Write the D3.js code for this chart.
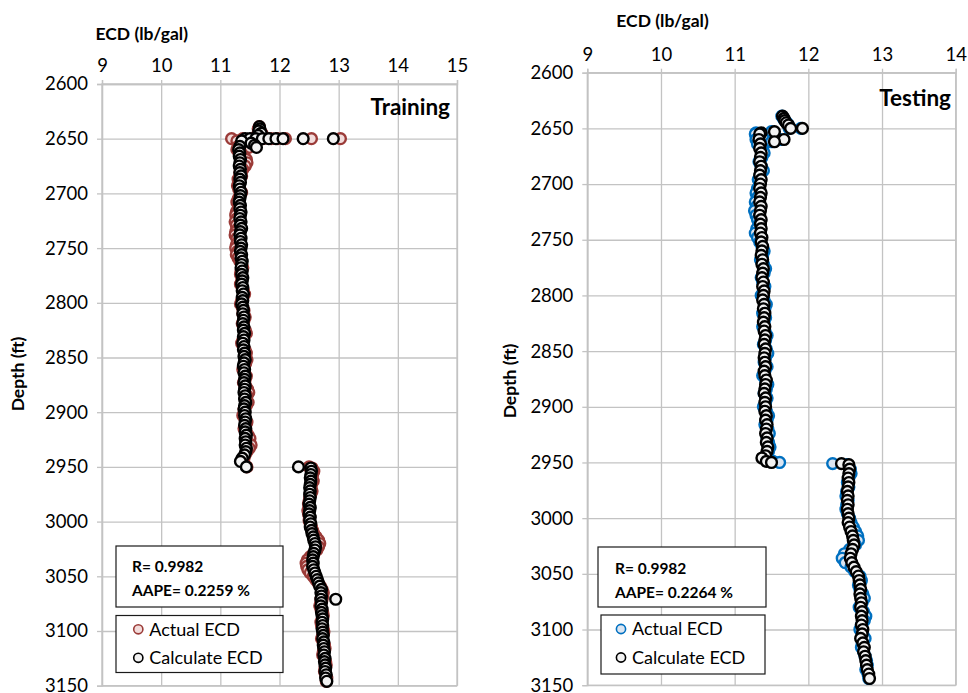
<!DOCTYPE html>
<html lang="en">
<head>
<meta charset="UTF-8">
<title>ECD vs depth</title>
<script src="https://cdn.jsdelivr.net/npm/d3@7"></script>
<style>
  body { margin: 0; background: #fff; }
  svg { display: block; font-family: Lato, "Open Sans", sans-serif; }
  .grid line { stroke: #c3c3c3; stroke-width: 1.3; }
  .grid .domain { display: none; }
  .axis .domain { stroke: #c3c3c3; stroke-width: 1.3; }
  .axis line { stroke: #c3c3c3; stroke-width: 1.3; }
  .axis text { font-size: 18.5px; fill: #000; font-family: Lato, sans-serif; }
  .ttl { font-weight: bold; font-size: 17.5px; }
  .panel-name { font-weight: bold; font-size: 22.5px; }
  .stat { font-weight: bold; font-size: 15.5px; }
  .leg { font-size: 18px; }
</style>
</head>
<body>
<svg id="fig" width="968" height="693"></svg>
<script>
// ---- data ----
const xTicksTrain = [9, 10, 11, 12, 13, 14, 15]
const xTicksTest = [9, 10, 11, 12, 13, 14]
const depthTicks = [2600, 2650, 2700, 2750, 2800, 2850, 2900, 2950, 3000, 3050, 3100, 3150]

const trainDepth = [
  2639, 2641, 2643, 2645, 2647, 2650, 2650, 2650, 2650, 2650, 2650, 2650, 2650, 2650, 2652, 2654, 2656, 2658, 2657,
  2660, 2663, 2666, 2669, 2672, 2675, 2678, 2681, 2684, 2687,
  2690, 2693, 2696, 2699, 2702, 2705, 2708, 2711, 2714, 2717,
  2720, 2723, 2726, 2729, 2732, 2735, 2738, 2741, 2744, 2747,
  2750, 2753, 2756, 2759, 2762, 2765, 2768, 2771, 2774, 2777,
  2780, 2783, 2786, 2789, 2792, 2795, 2798, 2801, 2804, 2807,
  2810, 2813, 2816, 2819, 2822, 2825, 2828, 2831, 2834, 2837,
  2840, 2843, 2846, 2849, 2852, 2855, 2858, 2861, 2864, 2867,
  2870, 2873, 2876, 2879, 2882, 2885, 2888, 2891, 2894, 2897,
  2900, 2903, 2906, 2909, 2912, 2915, 2918, 2921, 2924, 2927,
  2930, 2933, 2936, 2939, 2942, 2945, 2950,
  2950,
  2951, 2954, 2957, 2960, 2963, 2966, 2969, 2972, 2975, 2978,
  2981, 2984, 2987, 2990, 2993, 2996, 2999, 3002, 3005, 3008,
  3011, 3014, 3017, 3020, 3023, 3026, 3029, 3032, 3035, 3038,
  3041, 3044, 3047, 3050, 3053, 3056, 3059, 3062, 3065, 3068,
  3071, 3074, 3077, 3080, 3083, 3086, 3089, 3092, 3095, 3098,
  3101, 3104, 3107, 3110, 3113, 3116, 3119, 3122, 3125, 3128,
  3131, 3134, 3137, 3140, 3143, 3146,
  3071
]
const trainActual = [
  11.66, 11.64, 11.67, 11.70, 11.62, 11.19, 11.38, 11.55, 11.72, 11.86, 11.97, 12.10, 12.54, 13.03, 11.28, 11.36, 11.42, 11.48, 11.30,
  11.28, 11.35, 11.40, 11.44, 11.45, 11.42, 11.38, 11.33, 11.36, 11.30,
  11.32, 11.29, 11.31, 11.36, 11.33, 11.30, 11.28, 11.32, 11.30, 11.27,
  11.26, 11.28, 11.25, 11.27, 11.30, 11.26, 11.25, 11.28, 11.31, 11.27,
  11.26, 11.29, 11.27, 11.30, 11.33, 11.36, 11.38, 11.35, 11.34, 11.37,
  11.36, 11.34, 11.37, 11.39, 11.41, 11.38, 11.36, 11.34, 11.37, 11.40,
  11.38, 11.42, 11.40, 11.37, 11.39, 11.42, 11.44, 11.40, 11.38, 11.36,
  11.39, 11.42, 11.44, 11.41, 11.45, 11.43, 11.40, 11.38, 11.41, 11.44,
  11.42, 11.39, 11.43, 11.46, 11.48, 11.45, 11.42, 11.47, 11.44, 11.40,
  11.41, 11.38, 11.42, 11.45, 11.43, 11.40, 11.44, 11.47, 11.50, 11.46,
  11.52, 11.49, 11.45, 11.42, 11.40, 11.38, 11.45,
  12.50,
  12.55, 12.58, 12.56, 12.55, 12.57, 12.54, 12.53, 12.55, 12.53, 12.51,
  12.50, 12.49, 12.50, 12.48, 12.49, 12.51, 12.50, 12.52, 12.54, 12.56,
  12.58, 12.62, 12.66, 12.68, 12.66, 12.63, 12.58, 12.52, 12.47, 12.45,
  12.46, 12.48, 12.52, 12.57, 12.61, 12.65, 12.69, 12.72, 12.74, 12.73,
  12.72, 12.70, 12.68, 12.70, 12.73, 12.74, 12.72, 12.70, 12.71, 12.74,
  12.75, 12.73, 12.71, 12.74, 12.76, 12.77, 12.74, 12.73, 12.76, 12.78,
  12.79, 12.77, 12.76, 12.78, 12.80, 12.79,
  12.70
]
const trainCalc = [
  11.66, 11.67, 11.65, 11.69, 11.64, 11.42, 11.50, 11.60, 11.71, 11.82, 11.94, 12.06, 12.40, 12.91, 11.36, 11.52, 11.58, 11.61, 11.33,
  11.31, 11.33, 11.32, 11.34, 11.33, 11.32, 11.34, 11.33, 11.35, 11.33,
  11.34, 11.32, 11.33, 11.35, 11.34, 11.33, 11.32, 11.34, 11.33, 11.35,
  11.34, 11.33, 11.35, 11.34, 11.36, 11.34, 11.33, 11.35, 11.34, 11.36,
  11.35, 11.34, 11.36, 11.35, 11.37, 11.36, 11.35, 11.37, 11.36, 11.38,
  11.37, 11.36, 11.38, 11.37, 11.39, 11.37, 11.38, 11.36, 11.38, 11.39,
  11.38, 11.40, 11.39, 11.38, 11.40, 11.39, 11.41, 11.39, 11.40, 11.38,
  11.40, 11.39, 11.41, 11.40, 11.42, 11.40, 11.39, 11.41, 11.40, 11.42,
  11.41, 11.40, 11.42, 11.41, 11.40, 11.42, 11.41, 11.43, 11.41, 11.40,
  11.42, 11.41, 11.43, 11.42, 11.41, 11.43, 11.42, 11.44, 11.42, 11.43,
  11.42, 11.44, 11.43, 11.41, 11.37, 11.34, 11.44,
  12.32,
  12.53, 12.54, 12.53, 12.52, 12.53, 12.52, 12.51, 12.52, 12.51, 12.52,
  12.51, 12.50, 12.52, 12.51, 12.50, 12.52, 12.51, 12.53, 12.52, 12.54,
  12.55, 12.57, 12.58, 12.60, 12.61, 12.60, 12.58, 12.57, 12.56, 12.57,
  12.56, 12.58, 12.60, 12.62, 12.64, 12.66, 12.68, 12.71, 12.70, 12.71,
  12.70, 12.71, 12.70, 12.72, 12.71, 12.72, 12.73, 12.72, 12.73, 12.72,
  12.73, 12.74, 12.73, 12.75, 12.74, 12.75, 12.76, 12.75, 12.77, 12.76,
  12.77, 12.78, 12.77, 12.79, 12.78, 12.80,
  12.95
]

const testDepth = [
  2639, 2641, 2643, 2645, 2647, 2650, 2650, 2653, 2654, 2655, 2660, 2662,
  2660, 2664, 2668, 2672, 2676, 2680, 2684, 2688, 2692, 2696,
  2700, 2704, 2708, 2712, 2716, 2720, 2724, 2728, 2732, 2736,
  2740, 2744, 2748, 2752, 2756, 2760, 2764, 2768, 2772, 2776,
  2780, 2784, 2788, 2792, 2796, 2800, 2804, 2808, 2812, 2816,
  2820, 2824, 2828, 2832, 2836, 2840, 2844, 2848, 2852, 2856,
  2860, 2864, 2868, 2872, 2876, 2880, 2884, 2888, 2892, 2896,
  2900, 2904, 2908, 2912, 2916, 2920, 2924, 2928, 2932, 2936,
  2940, 2944, 2946, 2949, 2950,
  2951,
  2952, 2956, 2960, 2964, 2968, 2972, 2976, 2980, 2984, 2988,
  2992, 2996, 3000, 3004, 3008, 3012, 3016, 3020, 3024, 3028,
  3032, 3036, 3040, 3044, 3048, 3052, 3056, 3060, 3064, 3068,
  3072, 3076, 3080, 3084, 3088, 3092, 3096, 3100, 3104, 3108,
  3112, 3116, 3120, 3124, 3128, 3132, 3136, 3140, 3144
]
const testActual = [
  11.64, 11.66, 11.68, 11.71, 11.73, 11.74, 11.90, 11.50, 11.29, 11.28, 11.62, 11.50,
  11.29, 11.31, 11.38, 11.40, 11.37, 11.33, 11.36, 11.39, 11.35, 11.32,
  11.34, 11.31, 11.29, 11.31, 11.28, 11.30, 11.27, 11.29, 11.31, 11.33,
  11.30, 11.28, 11.31, 11.34, 11.37, 11.40, 11.38, 11.35, 11.39, 11.42,
  11.40, 11.36, 11.38, 11.41, 11.39, 11.36, 11.40, 11.43, 11.41, 11.38,
  11.42, 11.40, 11.38, 11.41, 11.44, 11.42, 11.39, 11.43, 11.45, 11.42,
  11.40, 11.44, 11.41, 11.38, 11.42, 11.45, 11.43, 11.40, 11.44, 11.42,
  11.39, 11.43, 11.46, 11.44, 11.41, 11.45, 11.47, 11.44, 11.46, 11.48,
  11.46, 11.44, 11.40, 11.52, 11.61,
  12.33,
  12.52, 12.57, 12.58, 12.55, 12.53, 12.55, 12.52, 12.51, 12.54, 12.52,
  12.51, 12.53, 12.56, 12.58, 12.61, 12.64, 12.67, 12.68, 12.64, 12.56,
  12.49, 12.46, 12.50, 12.58, 12.63, 12.70, 12.72, 12.68, 12.70, 12.74,
  12.76, 12.73, 12.69, 12.75, 12.78, 12.76, 12.72, 12.70, 12.74, 12.77,
  12.73, 12.72, 12.75, 12.77, 12.79, 12.80, 12.78, 12.81, 12.82
]
const testCalc = [
  11.65, 11.67, 11.68, 11.70, 11.73, 11.76, 11.92, 11.54, 11.36, 11.34, 11.67, 11.54,
  11.33, 11.35, 11.34, 11.36, 11.35, 11.34, 11.36, 11.35, 11.34, 11.36,
  11.35, 11.34, 11.36, 11.35, 11.34, 11.36, 11.35, 11.34, 11.36, 11.35,
  11.36, 11.35, 11.37, 11.36, 11.38, 11.37, 11.36, 11.38, 11.37, 11.39,
  11.38, 11.37, 11.39, 11.38, 11.40, 11.39, 11.38, 11.40, 11.39, 11.41,
  11.40, 11.39, 11.41, 11.40, 11.42, 11.41, 11.40, 11.42, 11.41, 11.40,
  11.41, 11.42, 11.40, 11.41, 11.43, 11.42, 11.41, 11.40, 11.42, 11.41,
  11.42, 11.41, 11.43, 11.42, 11.44, 11.43, 11.42, 11.44, 11.43, 11.45,
  11.44, 11.42, 11.37, 11.43, 11.50,
  12.45,
  12.55, 12.56, 12.55, 12.54, 12.55, 12.54, 12.53, 12.54, 12.53, 12.54,
  12.53, 12.54, 12.55, 12.54, 12.56, 12.58, 12.60, 12.61, 12.62, 12.60,
  12.58, 12.57, 12.59, 12.62, 12.65, 12.68, 12.69, 12.70, 12.71, 12.70,
  12.71, 12.72, 12.71, 12.73, 12.72, 12.73, 12.72, 12.74, 12.73, 12.71,
  12.74, 12.76, 12.75, 12.77, 12.78, 12.79, 12.80, 12.82, 12.83
]

const trainStats = ['R= 0.9982', 'AAPE= 0.2259 %']
const testStats = ['R= 0.9982', 'AAPE= 0.2264 %']
const legendNames = ['Actual ECD', 'Calculate ECD']

// ---- drawing ----
let svg = d3.select('#fig')
svg.append('rect').attr('width', 968).attr('height', 693).attr('fill', '#fff')

const R = 5.4
const SW = 2.4

function drawPanel(p) {
  let x = d3.scaleLinear().domain(p.xDomain).range([p.left, p.right])
  let y = d3.scaleLinear().domain([2600, 3150]).range([p.top, p.bottom])
  let g = svg.append('g')

  // gridlines
  g.append('g').attr('class', 'grid')
    .attr('transform', `translate(0,${p.top})`)
    .call(d3.axisTop(x).tickValues(p.xTicks).tickSize(-(p.bottom - p.top)).tickFormat(''))
  g.append('g').attr('class', 'grid')
    .attr('transform', `translate(${p.left},0)`)
    .call(d3.axisLeft(y).tickValues(depthTicks).tickSize(-(p.right - p.left)).tickFormat(''))
  g.append('rect')
    .attr('x', p.left).attr('y', p.top)
    .attr('width', p.right - p.left).attr('height', p.bottom - p.top)
    .attr('fill', 'none').attr('stroke', '#c3c3c3').attr('stroke-width', 1.3)

  // axes
  g.append('g').attr('class', 'axis')
    .attr('transform', `translate(0,${p.top})`)
    .call(d3.axisTop(x).tickValues(p.xTicks).tickSize(4).tickPadding(8).tickFormat(d3.format('d')))
  g.append('g').attr('class', 'axis')
    .attr('transform', `translate(${p.left},0)`)
    .call(d3.axisLeft(y).tickValues(depthTicks).tickSize(5).tickPadding(9).tickFormat(d3.format('d')))

  // axis titles
  g.append('text').attr('class', 'ttl')
    .attr('x', p.xTitle[0]).attr('y', p.xTitle[1])
    .text('ECD (lb/gal)')
  g.append('text').attr('class', 'ttl')
    .attr('text-anchor', 'middle')
    .attr('transform', `translate(${p.yTitle[0]},${p.yTitle[1]}) rotate(-90)`)
    .text('Depth (ft)')
  g.append('text').attr('class', 'panel-name')
    .attr('text-anchor', 'end')
    .attr('x', p.name[0]).attr('y', p.name[1])
    .text(p.label)

  // points: actual first, calculated on top
  let pts = g.append('g')
  pts.selectAll('circle.act')
    .data(p.depth)
    .join('circle').attr('class', 'act')
    .attr('cx', (d, i) => x(p.actual[i]))
    .attr('cy', d => y(d))
    .attr('r', R)
    .attr('fill', p.actFill).attr('stroke', p.actStroke).attr('stroke-width', SW)
  pts.selectAll('circle.calc')
    .data(p.depth)
    .join('circle').attr('class', 'calc')
    .attr('cx', (d, i) => x(p.calc[i]))
    .attr('cy', d => y(d))
    .attr('r', R)
    .attr('fill', '#f2f2f2').attr('stroke', '#000').attr('stroke-width', SW)

  // stats box
  let sb = p.statBox
  g.append('rect').attr('x', sb[0]).attr('y', sb[1]).attr('width', sb[2]).attr('height', sb[3])
    .attr('fill', '#fff').attr('stroke', '#1a1a1a').attr('stroke-width', 1.2)
  p.stats.forEach((s, i) => {
    g.append('text').attr('class', 'stat')
      .attr('x', p.statText[0]).attr('y', p.statText[1] + i * 24.5)
      .text(s)
  })

  // legend box
  let lb = p.legBox
  g.append('rect').attr('x', lb[0]).attr('y', lb[1]).attr('width', lb[2]).attr('height', lb[3])
    .attr('fill', '#fff').attr('stroke', '#1a1a1a').attr('stroke-width', 1.2)
  legendNames.forEach((name, i) => {
    let cy = p.legMarker[1] + i * 28.5
    g.append('circle').attr('cx', p.legMarker[0]).attr('cy', cy).attr('r', 4.6)
      .attr('fill', i === 0 ? p.actFill : '#f2f2f2')
      .attr('stroke', i === 0 ? p.actStroke : '#000')
      .attr('stroke-width', 1.6)
    g.append('text').attr('class', 'leg')
      .attr('x', p.legMarker[0] + 11).attr('y', cy + 6.3)
      .text(name)
  })
}

drawPanel({
  label: 'Training', xDomain: [9, 15], xTicks: xTicksTrain,
  left: 102, right: 457, top: 84, bottom: 685.7,
  xTitle: [95.5, 39.5], yTitle: [24, 374], name: [450, 115],
  depth: trainDepth, actual: trainActual, calc: trainCalc,
  actFill: '#f2dcdb', actStroke: '#9b3b38',
  statBox: [116, 546, 167, 61], stats: trainStats, statText: [132, 571.5],
  legBox: [116, 615.5, 167, 57], legMarker: [138.3, 629.3]
})

drawPanel({
  label: 'Testing', xDomain: [9, 14], xTicks: xTicksTest,
  left: 587.3, right: 955.7, top: 72.7, bottom: 685.2,
  xTitle: [616.3, 26.7], yTitle: [516, 381], name: [951, 106],
  depth: testDepth, actual: testActual, calc: testCalc,
  actFill: '#dbe5f1', actStroke: '#0070c0',
  statBox: [598, 547, 168, 60], stats: testStats, statText: [615, 573.5],
  legBox: [601, 615, 164, 59], legMarker: [621, 629]
})
</script>
</body>
</html>
